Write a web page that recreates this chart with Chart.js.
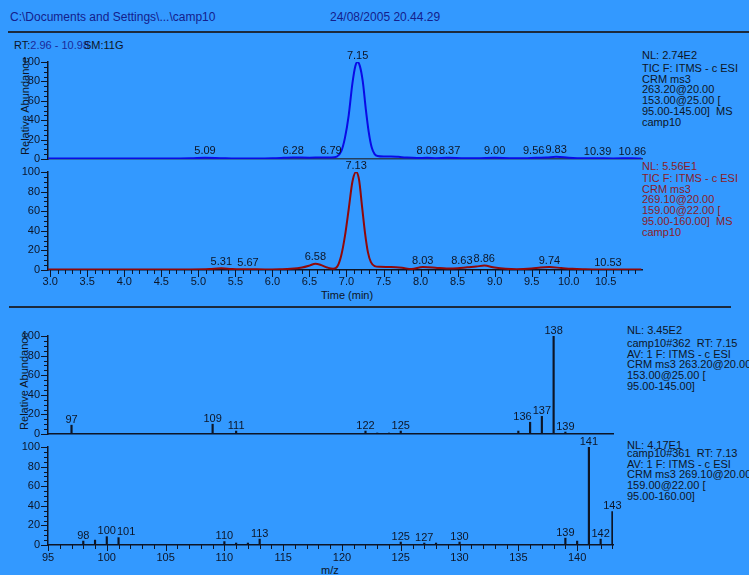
<!DOCTYPE html>
<html>
<head>
<meta charset="utf-8">
<script src="https://cdn.jsdelivr.net/npm/chart.js@4.4.1/dist/chart.umd.min.js"></script>
<style>
  html, body { margin: 0; padding: 0; }
  body { width: 749px; height: 575px; background: #3399ff; position: relative; overflow: hidden;
         font-family: "Liberation Sans", Arial, sans-serif; color: #0d1526; }
  canvas { position: absolute; left: 0; top: 0; }
  .t { position: absolute; font-size: 11px; line-height: 10.7px; white-space: pre; }
  .hline { position: absolute; height: 2px; background: #1c2a3c; }
  .rot { position: absolute; font-size: 11px; transform: translate(-50%, -50%) rotate(-90deg); white-space: nowrap; }
</style>
</head>
<body>

<div class="t" style="left:10px;top:10px;font-size:12px;line-height:14px;color:#14208c">C:\Documents and Settings\...\camp10</div>
<div class="t" style="left:330px;top:10px;font-size:12px;line-height:14px;color:#14208c">24/08/2005 20.44.29</div>
<div class="hline" style="left:8px;top:31px;width:741px"></div>
<div class="t" style="left:14px;top:39px;line-height:12px">RT:<span style="color:#1a2a9a">2.96 - 10.98</span></div>
<div class="t" style="left:84px;top:39px;line-height:12px">SM:11G</div>

<div class="rot" style="left:25px;top:106px">Relative Abundance</div>
<div class="rot" style="left:24px;top:381px">Relative Abundance</div>

<div class="t" style="left:642px;top:50px">NL: 2.74E2</div>
<div class="t" style="left:642px;top:63px">TIC F: ITMS - c ESI
CRM ms3
263.20@20.00
153.00@25.00 [
95.00-145.00]  MS
camp10</div>

<div class="t" style="left:642px;top:161px;color:#8a1c28">NL: 5.56E1</div>
<div class="t" style="left:642px;top:173px;color:#8a1c28">TIC F: ITMS - c ESI
CRM ms3
269.10@20.00
159.00@22.00 [
95.00-160.00]  MS
camp10</div>

<div class="t" style="left:321px;top:289px;line-height:12px">Time (min)</div>
<div class="hline" style="left:9px;top:306px;width:722px"></div>

<div class="t" style="left:627px;top:325px">NL: 3.45E2</div>
<div class="t" style="left:627px;top:338px">camp10#362  RT: 7.15
AV: 1 F: ITMS - c ESI
CRM ms3 263.20@20.00
153.00@25.00 [
95.00-145.00]</div>

<div class="t" style="left:627px;top:440px">NL: 4.17E1</div>
<div class="t" style="left:627px;top:448px">camp10#361  RT: 7.13
AV: 1 F: ITMS - c ESI
CRM ms3 269.10@20.00
159.00@22.00 [
95.00-160.00]</div>

<div class="t" style="left:321px;top:564px;line-height:12px">m/z</div>

<canvas id="c1" width="749" height="575"></canvas>
<canvas id="c2" width="749" height="575"></canvas>
<canvas id="c3" width="749" height="575"></canvas>
<canvas id="c4" width="749" height="575"></canvas>

<script>
// chromatogram 1 (263.20 -> 153.00), time in min, relative abundance
const tic1Times  = [2.96, 3.2, 3.5, 3.8, 4.1, 4.4, 4.7, 4.9, 5.09, 5.3, 5.5, 5.8, 6.0, 6.15, 6.28, 6.5, 6.65, 6.79,
                    6.87, 6.93, 6.98, 7.03, 7.08, 7.12, 7.15, 7.18, 7.22, 7.26, 7.3, 7.34, 7.38, 7.42, 7.5, 7.6, 7.7,
                    7.8, 7.95, 8.09, 8.2, 8.37, 8.6, 8.8, 9.0, 9.2, 9.4, 9.56, 9.7, 9.83, 10.0, 10.2, 10.39, 10.6, 10.86, 10.98];
const tic1Values = [0.5, 0.5, 0.6, 0.5, 0.6, 0.5, 0.6, 0.7, 1.2, 0.9, 0.6, 0.6, 0.8, 1.2, 1.6, 1.4, 1.5, 1.6,
                    2.5, 8, 22, 45, 78, 96, 100, 96, 80, 52, 28, 12, 5, 3, 2.5, 2.6, 2.2,
                    1.6, 1.1, 1.2, 0.9, 1.2, 0.8, 0.9, 1.2, 0.9, 0.8, 1.3, 1.5, 2.2, 1.4, 0.8, 0.7, 0.6, 0.7, 0.6];
const tic1Peaks  = [5.09, 6.28, 6.79, 7.15, 8.09, 8.37, 9.0, 9.56, 9.83, 10.39, 10.86];

// chromatogram 2 (269.10 -> 159.00)
const tic2Times  = [2.96, 3.3, 3.7, 4.1, 4.5, 4.9, 5.15, 5.31, 5.45, 5.55, 5.67, 5.9, 6.1, 6.25, 6.4, 6.5, 6.58, 6.66,
                    6.74, 6.82, 6.88, 6.93, 6.98, 7.03, 7.08, 7.13, 7.17, 7.21, 7.25, 7.29, 7.33, 7.38, 7.45, 7.6,
                    7.75, 7.88, 8.03, 8.2, 8.35, 8.5, 8.63, 8.75, 8.86, 9.0, 9.15, 9.3, 9.5, 9.62, 9.74, 9.9, 10.05,
                    10.2, 10.4, 10.53, 10.7, 10.98];
const tic2Values = [0.5, 0.5, 0.5, 0.5, 0.5, 0.6, 1.0, 1.8, 1.0, 0.7, 0.8, 0.6, 0.8, 1.2, 2.5, 4.5, 6.5, 5,
                    2.5, 1.2, 4, 15, 35, 62, 90, 100, 92, 65, 38, 18, 8, 4, 3.2, 3,
                    2.2, 1, 3, 2.4, 1.6, 1.8, 2.8, 3.5, 4.5, 2.5, 1.2, 0.8, 1.5, 2.5, 3, 2, 1.2,
                    0.8, 0.5, 0.6, 0.5, 0.5];
const tic2Peaks  = [5.31, 5.67, 6.58, 7.13, 8.03, 8.63, 8.86, 9.74, 10.53];

// spectrum 1 (scan 362, RT 7.15)
const ms1Mz        = [97, 109, 111, 122, 123, 124, 125, 135, 136, 137, 138, 139];
const ms1Intensity = [9, 10, 3, 3, 1, 1, 3, 3, 12, 18, 100, 2];
const ms1Labels    = [97, 109, 111, 122, 125, 136, 137, 138, 139];

// spectrum 2 (scan 361, RT 7.13)
const ms2Mz        = [98, 99, 100, 101, 110, 111, 112, 113, 125, 127, 128, 130, 139, 140, 141, 142, 143];
const ms2Intensity = [4, 5, 8.5, 7.5, 3.5, 2, 2, 6, 3, 2, 2, 3, 7, 4, 100, 6, 34];
const ms2Labels    = [98, 100, 101, 110, 113, 125, 127, 130, 139, 141, 142, 143];

const INK = '#0d1526';
Chart.defaults.font.family = '"Liberation Sans", Arial, sans-serif';
Chart.defaults.font.size = 11;
Chart.defaults.color = INK;

// minor/major tick marks drawn from the scales
const tickMarks = {
  id: 'tickMarks',
  afterDraw(chart, args, opts) {
    const ctx = chart.ctx, a = chart.chartArea;
    const xs = chart.scales.x, ys = chart.scales.y;
    ctx.save();
    ctx.strokeStyle = INK;
    ctx.lineWidth = 1;
    ctx.beginPath();
    for (let v = 0; v <= 100; v += 5) {
      const py = Math.round(ys.getPixelForValue(v)) + 0.5;
      const len = v % 20 === 0 ? 7 : 4;
      ctx.moveTo(a.left - len, py);
      ctx.lineTo(a.left, py);
    }
    if (opts.xStep) {
      const k0 = Math.ceil(xs.min / opts.xStep - 1e-6), k1 = Math.floor(xs.max / opts.xStep + 1e-6);
      for (let k = k0; k <= k1; k++) {
        const px = Math.round(xs.getPixelForValue(k * opts.xStep)) + 0.5;
        const len = k % opts.xEvery === 0 ? opts.majorLen : opts.minorLen;
        ctx.moveTo(px, a.bottom);
        ctx.lineTo(px, a.bottom + len);
      }
    }
    ctx.stroke();
    ctx.restore();
  }
};

// text labels above peaks / sticks, taller peaks keep their spot, smaller ones slide aside
const peakLabels = {
  id: 'peakLabels',
  afterDatasetsDraw(chart, args, opts) {
    const ctx = chart.ctx, xs = chart.scales.x, ys = chart.scales.y;
    ctx.save();
    ctx.fillStyle = INK;
    ctx.font = '11px "Liberation Sans", Arial, sans-serif';
    ctx.textAlign = 'center';
    ctx.textBaseline = 'middle';
    const placed = [];
    opts.items.slice().sort((p, q) => q.y - p.y).forEach(it => {
      const w = ctx.measureText(it.text).width;
      const nx = xs.getPixelForValue(it.x);
      const cy = ys.getPixelForValue(it.y) - opts.gap;
      let cx = nx;
      for (let n = 0; n < 10; n++) {
        const hit = placed.find(b => Math.abs(b.cy - cy) < 11 && cx + w / 2 > b.cx - b.w / 2 - 1 && cx - w / 2 < b.cx + b.w / 2 + 1);
        if (!hit) break;
        cx = nx >= hit.cx ? hit.cx + hit.w / 2 + w / 2 + 1 : hit.cx - hit.w / 2 - w / 2 - 1;
      }
      placed.push({ cx, cy, w });
      ctx.fillText(it.text, cx, cy);
    });
    ctx.restore();
  }
};

function yAxis() {
  return {
    min: 0, max: 100,
    afterFit(s) { s.width = 48; },
    grid: { display: false, drawTicks: false },
    border: { display: true, color: INK, width: 1.5 },
    ticks: { stepSize: 20, padding: 8 }
  };
}

function chromChart(id, times, values, peaks, color, top, bottom, showX, axisColor) {
  const labels = peaks.map(t => ({ x: t, y: values[times.indexOf(t)], text: t.toFixed(2) }));
  const xh = showX ? 30 : 0;
  return new Chart(document.getElementById(id), {
    type: 'line',
    data: {
      datasets: [{
        data: times.map((t, i) => ({ x: t, y: values[i] })),
        borderColor: color,
        borderWidth: 2,
        pointRadius: 0,
        cubicInterpolationMode: 'monotone',
        fill: false
      }]
    },
    options: {
      responsive: false,
      animation: false,
      devicePixelRatio: 1,
      layout: { padding: { left: 0, right: 107, top: top, bottom: 575 - bottom - xh } },
      plugins: {
        legend: { display: false },
        tooltip: { enabled: false },
        tickMarks: showX ? { xStep: 0.1, xEvery: 5, majorLen: 7, minorLen: 4 } : {},
        peakLabels: { items: labels, gap: 6.5 }
      },
      scales: {
        x: {
          type: 'linear', min: 2.97, max: 10.99,
          afterFit(s) { s.height = xh; },
          grid: { display: false, drawTicks: false },
          border: { display: true, color: axisColor, width: 1.5 },
          ticks: { display: showX, stepSize: 0.5, includeBounds: false, autoSkip: false, padding: 5,
                   maxRotation: 0, callback: v => v.toFixed(1) }
        },
        y: yAxis()
      }
    },
    plugins: [tickMarks, peakLabels]
  });
}

function specChart(id, mz, inten, lab, top, bottom, showX) {
  const labels = lab.map(m => ({ x: m, y: inten[mz.indexOf(m)], text: String(m) }));
  const xh = showX ? 20 : 0;
  return new Chart(document.getElementById(id), {
    type: 'bar',
    data: {
      datasets: [{
        data: mz.map((m, i) => ({ x: m, y: inten[i] })),
        backgroundColor: INK,
        borderWidth: 0,
        barThickness: 1.5,
        grouped: false
      }]
    },
    options: {
      responsive: false,
      animation: false,
      devicePixelRatio: 1,
      layout: { padding: { left: 0, right: 136, top: top, bottom: 575 - bottom - xh } },
      plugins: {
        legend: { display: false },
        tooltip: { enabled: false },
        tickMarks: showX ? { xStep: 1, xEvery: 5, majorLen: 6, minorLen: 4 } : {},
        peakLabels: { items: labels, gap: 5.5 }
      },
      scales: {
        x: {
          type: 'linear', min: 95, max: 143.05, offset: false,
          afterFit(s) { s.height = xh; },
          grid: { display: false, drawTicks: false, offset: false },
          border: { display: true, color: INK, width: 1.5 },
          ticks: { display: showX, stepSize: 5, includeBounds: false, autoSkip: false, padding: 6, maxRotation: 0 }
        },
        y: yAxis()
      }
    },
    plugins: [tickMarks, peakLabels]
  });
}

chromChart('c1', tic1Times, tic1Values, tic1Peaks, '#0a0ae6', 62, 159, false, '#26405e');
chromChart('c2', tic2Times, tic2Values, tic2Peaks, '#900808', 172, 270, true, INK);
specChart('c3', ms1Mz, ms1Intensity, ms1Labels, 336, 434, false);
specChart('c4', ms2Mz, ms2Intensity, ms2Labels, 447, 545, true);
</script>
</body>
</html>
